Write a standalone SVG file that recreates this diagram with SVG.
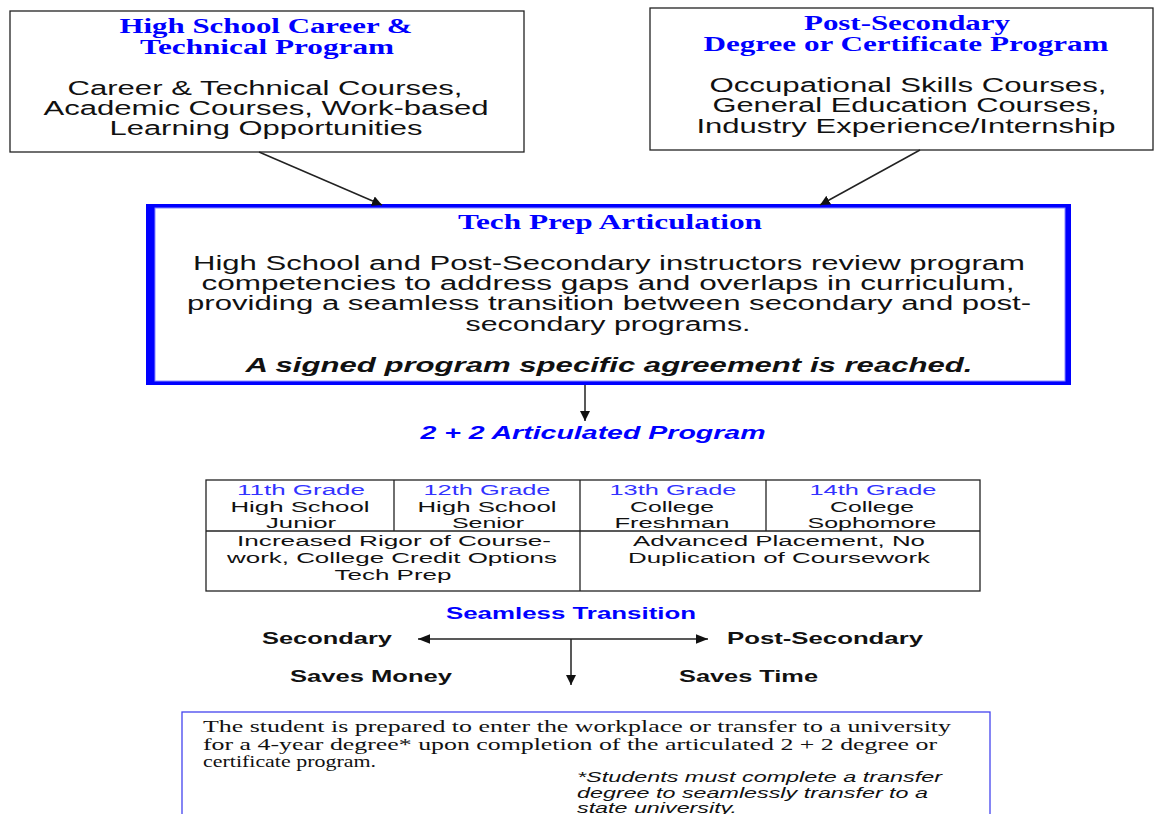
<svg xmlns="http://www.w3.org/2000/svg" width="1155" height="814" viewBox="0 0 1155 814">
<style>
.bx{fill:#fff;stroke:#222;stroke-width:1.3}
.ttl{font-family:"Liberation Serif",serif;font-weight:bold;fill:#0000ff;font-size:20px;text-anchor:middle}
.body{font-family:"Liberation Sans",Arial,sans-serif;fill:#111;font-size:20px;text-anchor:middle}
.cell{font-family:"Liberation Sans",Arial,sans-serif;fill:#111;font-size:15.5px;text-anchor:middle}
.blue{fill:#3333ff}
.lbl{font-family:"Liberation Sans",Arial,sans-serif;font-weight:bold;fill:#111;font-size:17px}
.ln{stroke:#222;stroke-width:1.5;fill:none}
.tl{stroke:#222;stroke-width:1.3;fill:none}
.ser{font-family:"Liberation Serif",serif;font-size:17px;fill:#111}
.it{font-family:"Liberation Sans",Arial,sans-serif;font-style:italic;font-size:15.5px;fill:#111}
</style>
<defs>
<marker id="ah" viewBox="0 0 10 10" refX="10" refY="5" markerWidth="10" markerHeight="10" markerUnits="userSpaceOnUse" orient="auto"><path d="M0,0 L10,5 L0,10 z" fill="#111"/></marker>
<marker id="ah2" viewBox="0 0 10 10" refX="10" refY="5" markerWidth="12" markerHeight="12" markerUnits="userSpaceOnUse" orient="auto-start-reverse"><path d="M0,1 L10,5 L0,9 z" fill="#111"/></marker>
</defs>
<rect width="1155" height="814" fill="#fff"/>

<g id="hs-program">
<rect class="bx" x="10" y="11" width="514" height="141"/>
<text class="ttl" x="266" y="33" textLength="293" lengthAdjust="spacingAndGlyphs">High School Career &amp;</text>
<text class="ttl" x="267" y="54" textLength="254" lengthAdjust="spacingAndGlyphs">Technical Program</text>
<text class="body" x="265" y="95" textLength="395" lengthAdjust="spacingAndGlyphs">Career &amp; Technical Courses,</text>
<text class="body" x="266" y="115" textLength="445" lengthAdjust="spacingAndGlyphs">Academic Courses, Work-based</text>
<text class="body" x="266" y="135" textLength="313" lengthAdjust="spacingAndGlyphs">Learning Opportunities</text>
</g>

<g id="ps-program">
<rect class="bx" x="650" y="8" width="503" height="142"/>
<text class="ttl" x="907" y="30" textLength="206" lengthAdjust="spacingAndGlyphs">Post-Secondary</text>
<text class="ttl" x="906" y="51" textLength="405" lengthAdjust="spacingAndGlyphs">Degree or Certificate Program</text>
<text class="body" x="908" y="92" textLength="397" lengthAdjust="spacingAndGlyphs">Occupational Skills Courses,</text>
<text class="body" x="906" y="112" textLength="387" lengthAdjust="spacingAndGlyphs">General Education Courses,</text>
<text class="body" x="906" y="133" textLength="419" lengthAdjust="spacingAndGlyphs">Industry Experience/Internship</text>
</g>

<g id="tech-prep">
<rect x="146" y="204" width="925" height="181" fill="#0000ff"/>
<rect x="155" y="208" width="910" height="173" fill="#fff" stroke="#8a8aff" stroke-width="1"/>
<text class="ttl" x="610" y="229" textLength="304" lengthAdjust="spacingAndGlyphs">Tech Prep Articulation</text>
<text class="body" x="609" y="270" textLength="832" lengthAdjust="spacingAndGlyphs">High School and Post-Secondary instructors review program</text>
<text class="body" x="608" y="290" textLength="813" lengthAdjust="spacingAndGlyphs">competencies to address gaps and overlaps in curriculum,</text>
<text class="body" x="609" y="310" textLength="844" lengthAdjust="spacingAndGlyphs">providing a seamless transition between secondary and post-</text>
<text class="body" x="608" y="331" textLength="285" lengthAdjust="spacingAndGlyphs">secondary programs.</text>
<text class="body" x="609" y="372" font-weight="bold" font-style="italic" textLength="727" lengthAdjust="spacingAndGlyphs">A signed program specific agreement is reached.</text>
</g>

<g id="articulated-label">
<text x="593" y="439" font-family="'Liberation Sans',Arial,sans-serif" font-weight="bold" font-style="italic" font-size="18" fill="#0000ff" text-anchor="middle" textLength="345" lengthAdjust="spacingAndGlyphs">2 + 2 Articulated Program</text>
</g>

<g id="grade-table">
<rect class="tl" x="206" y="480" width="774" height="111" fill="#fff"/>
<line class="tl" x1="206" y1="531" x2="980" y2="531"/>
<line class="tl" x1="394" y1="480" x2="394" y2="531"/>
<line class="tl" x1="580" y1="480" x2="580" y2="591"/>
<line class="tl" x1="766" y1="480" x2="766" y2="531"/>
<text class="cell blue" x="301" y="495" textLength="128" lengthAdjust="spacingAndGlyphs">11th Grade</text>
<text class="cell" x="300" y="511.5" textLength="139" lengthAdjust="spacingAndGlyphs">High School</text>
<text class="cell" x="301" y="528" textLength="70" lengthAdjust="spacingAndGlyphs">Junior</text>
<text class="cell blue" x="487" y="495" textLength="127" lengthAdjust="spacingAndGlyphs">12th Grade</text>
<text class="cell" x="487" y="511.5" textLength="139" lengthAdjust="spacingAndGlyphs">High School</text>
<text class="cell" x="488" y="528" textLength="72" lengthAdjust="spacingAndGlyphs">Senior</text>
<text class="cell blue" x="673" y="495" textLength="127" lengthAdjust="spacingAndGlyphs">13th Grade</text>
<text class="cell" x="672" y="511.5" textLength="84" lengthAdjust="spacingAndGlyphs">College</text>
<text class="cell" x="672" y="528" textLength="115" lengthAdjust="spacingAndGlyphs">Freshman</text>
<text class="cell blue" x="873" y="495" textLength="127" lengthAdjust="spacingAndGlyphs">14th Grade</text>
<text class="cell" x="872" y="511.5" textLength="84" lengthAdjust="spacingAndGlyphs">College</text>
<text class="cell" x="872" y="528" textLength="129" lengthAdjust="spacingAndGlyphs">Sophomore</text>
<text class="cell" x="394" y="546" textLength="314" lengthAdjust="spacingAndGlyphs">Increased Rigor of Course-</text>
<text class="cell" x="392" y="563" textLength="330" lengthAdjust="spacingAndGlyphs">work, College Credit Options</text>
<text class="cell" x="393" y="580" textLength="117" lengthAdjust="spacingAndGlyphs">Tech Prep</text>
<text class="cell" x="779" y="546" textLength="292" lengthAdjust="spacingAndGlyphs">Advanced Placement, No</text>
<text class="cell" x="779" y="563" textLength="302" lengthAdjust="spacingAndGlyphs">Duplication of Coursework</text>
</g>

<g id="seamless">
<text x="571" y="619" font-family="'Liberation Sans',Arial,sans-serif" font-weight="bold" font-size="17" fill="#0000ff" text-anchor="middle" textLength="250" lengthAdjust="spacingAndGlyphs">Seamless Transition</text>
<text class="lbl" x="262" y="644" textLength="130" lengthAdjust="spacingAndGlyphs">Secondary</text>
<text class="lbl" x="727" y="644" textLength="196" lengthAdjust="spacingAndGlyphs">Post-Secondary</text>
<text class="lbl" x="290" y="682" textLength="162" lengthAdjust="spacingAndGlyphs">Saves Money</text>
<text class="lbl" x="679" y="682" textLength="139" lengthAdjust="spacingAndGlyphs">Saves Time</text>
</g>

<g id="outcome">
<rect x="182" y="712" width="808" height="120" fill="#fff" stroke="#4444ee" stroke-width="1.3"/>
<text class="ser" x="203" y="732" textLength="748" lengthAdjust="spacingAndGlyphs">The student is prepared to enter the workplace or transfer to a university</text>
<text class="ser" x="203" y="750" textLength="734" lengthAdjust="spacingAndGlyphs">for a 4-year degree* upon completion of the articulated 2 + 2 degree or</text>
<text class="ser" x="203" y="767" textLength="173" lengthAdjust="spacingAndGlyphs">certificate program.</text>
<text class="it" x="577" y="782" textLength="365" lengthAdjust="spacingAndGlyphs">*Students must complete a transfer</text>
<text class="it" x="577" y="798" textLength="351" lengthAdjust="spacingAndGlyphs">degree to seamlessly transfer to a</text>
<text class="it" x="577" y="813" textLength="160" lengthAdjust="spacingAndGlyphs">state university.</text>
</g>

<g id="connectors">
<line class="ln" x1="259" y1="152" x2="382" y2="205" marker-end="url(#ah)"/>
<line class="ln" x1="920" y1="150" x2="820" y2="205" marker-end="url(#ah)"/>
<line class="ln" x1="585" y1="385" x2="585" y2="421" marker-end="url(#ah)"/>
<line class="ln" x1="418" y1="639" x2="708" y2="639" marker-start="url(#ah2)" marker-end="url(#ah2)"/>
<line class="ln" x1="571" y1="639" x2="571" y2="685" marker-end="url(#ah)"/>
</g>
</svg>
